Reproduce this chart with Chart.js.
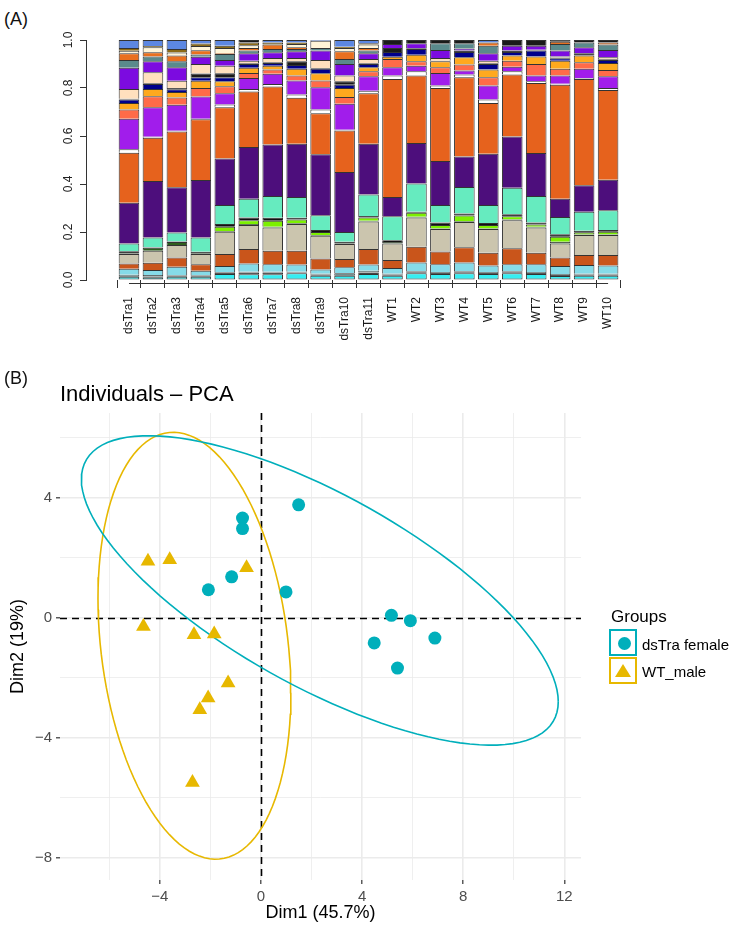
<!DOCTYPE html>
<html>
<head>
<meta charset="utf-8">
<script src="https://cdn.jsdelivr.net/npm/chart.js@4.4.1/dist/chart.umd.min.js"></script>
<style>
  html, body { margin: 0; padding: 0; background: #fff; }
  body { width: 731px; height: 931px; position: relative; overflow: hidden; font-family: "Liberation Sans", Arial, sans-serif; }
  .abs { position: absolute; white-space: nowrap; }
  .tag { font-size: 18px; line-height: 18px; color: #111; }
  #barBox { left: 0; top: 0; width: 731px; height: 370px; }
  #pcaBox { left: 0; top: 380px; width: 731px; height: 551px; }
  #pcaTitle { left: 60px; top: 383px; font-size: 22px; line-height: 22px; color: #000; }
  .legTitle { font-size: 17px; line-height: 17px; color: #000; }
  .legText { font-size: 15px; line-height: 15px; color: #000; }
  .key { width: 28px; height: 27px; box-sizing: border-box; border: 2px solid; background: #fff; }
  .dot { position: absolute; left: 7px; top: 6px; width: 13px; height: 13px; border-radius: 50%; background: #00AFBB; }
  .tri { position: absolute; left: 4px; top: 5px; width: 0; height: 0; border-left: 8px solid transparent; border-right: 8px solid transparent; border-bottom: 13px solid #E7B800; }
</style>
</head>
<body>
<div class="abs tag" style="left:4px; top:10px">(A)</div>
<div class="abs" id="barBox"><canvas id="barChart"></canvas></div>
<div class="abs tag" style="left:4px; top:369px">(B)</div>
<div class="abs" id="pcaTitle">Individuals – PCA</div>
<div class="abs" id="pcaBox"><canvas id="pcaChart"></canvas></div>

<div class="abs legTitle" style="left:611px; top:608px">Groups</div>
<div class="abs key" style="left:609px; top:629px; border-color:#00AFBB"><div class="dot"></div></div>
<div class="abs legText" style="left:642px; top:637px">dsTra female</div>
<div class="abs key" style="left:609px; top:657px; border-color:#E7B800"><div class="tri"></div></div>
<div class="abs legText" style="left:642px; top:664px">WT_male</div>

<script>
// Panel A : composition des échantillons (limites cumulées, de bas en haut)
const sampleNames = ['dsTra1', 'dsTra2', 'dsTra3', 'dsTra4', 'dsTra5', 'dsTra6', 'dsTra7', 'dsTra8', 'dsTra9', 'dsTra10', 'dsTra11',
    'WT1', 'WT2', 'WT3', 'WT4', 'WT5', 'WT6', 'WT7', 'WT8', 'WT9', 'WT10'];

const topCyan       = [.014,.011,.014,.014,.025,.024,.024,.028,.018,.018,.025,.018,.028,.025,.028,.025,.028,.025,.017,.018,.018];
const topBlack1     = [.017,.014,.018,.018,.030,.031,.031,.031,.022,.021,.031,.022,.032,.029,.032,.029,.032,.029,.021,.022,.022];
const topGray       = [.022,.021,.021,.021,.033,.034,.034,.034,.026,.028,.039,.026,.036,.033,.036,.033,.036,.033,.025,.026,.026];
const topLightBlue  = [.047,.042,.055,.039,.058,.069,.066,.065,.044,.053,.065,.050,.073,.066,.073,.060,.066,.066,.058,.062,.060];
const topRust       = [.069,.072,.094,.066,.108,.129,.122,.122,.090,.087,.129,.083,.139,.119,.136,.114,.132,.114,.094,.104,.104];
const topTan        = [.108,.122,.146,.108,.201,.229,.219,.233,.184,.150,.244,.152,.260,.212,.242,.212,.249,.219,.152,.187,.187];
const topDarkGreen  = [.110,.134,.158,.111,.204,.233,.222,.236,.187,.152,.247,.158,.264,.215,.245,.215,.252,.222,.159,.190,.190];
const topLime       = [.110,.134,.158,.111,.222,.249,.247,.252,.200,.152,.260,.158,.280,.229,.269,.229,.266,.231,.180,.197,.201];
const topBlack2     = [.120,.136,.160,.118,.233,.260,.259,.259,.208,.159,.267,.166,.284,.240,.277,.238,.274,.240,.191,.205,.208];
const topAqua       = [.152,.177,.198,.177,.312,.339,.350,.346,.270,.200,.356,.266,.402,.312,.388,.312,.384,.350,.263,.284,.291];
const topIndigo     = [.322,.413,.386,.417,.506,.554,.565,.568,.524,.450,.568,.346,.571,.496,.515,.526,.598,.529,.339,.395,.418];
const topOrange     = [.530,.593,.619,.670,.720,.785,.806,.759,.695,.623,.778,.838,.852,.800,.845,.738,.856,.821,.814,.838,.792];
const topWhite      = [.545,.597,.622,.672,.731,.796,.817,.773,.710,.626,.789,.852,.870,.810,.856,.752,.870,.828,.818,.842,.800];
const topViolet     = [.672,.720,.730,.765,.778,.842,.859,.831,.803,.734,.849,.886,.893,.863,.873,.810,.889,.852,.852,.880,.849];
const topTomato     = [.710,.766,.760,.800,.807,.863,.877,.852,.831,.762,.870,.921,.911,.886,.898,.845,.914,.900,.880,.907,.875];
const topGold       = [.737,.796,.783,.830,.828,.884,.893,.880,.861,.800,.886,.930,.939,.911,.928,.877,.935,.931,.914,.935,.904];
const topNavy       = [.752,.817,.795,.845,.845,.900,.904,.896,.880,.814,.900,.950,.963,.911,.950,.900,.950,.956,.924,.935,.917];
const topBlack3     = [.755,.820,.800,.860,.861,.903,.907,.911,.883,.828,.903,.967,.966,.914,.956,.903,.956,.959,.927,.945,.920];
const topBisque     = [.796,.866,.830,.900,.893,.914,.925,.925,.917,.852,.921,.967,.966,.925,.956,.914,.956,.959,.931,.945,.928];
const topBlueViolet = [.884,.911,.886,.930,.917,.945,.949,.953,.956,.900,.945,.983,.986,.958,.965,.945,.976,.976,.956,.970,.958];
const topCadet      = [.917,.931,.911,.940,.942,.956,.963,.963,.967,.921,.956,.983,.986,.986,.986,.976,.976,.976,.983,.990,.981];
const topOrange2    = [.945,.949,.935,.957,.945,.967,.981,.970,.967,.953,.967,.983,.986,.986,.986,.990,.976,.976,.993,.990,.990];
const topCream      = [.955,.970,.948,.975,.967,.978,.981,.983,.997,.967,.981,.983,.986,.986,.986,.990,.976,.976,.993,.990,.990];
const topOlive      = [.967,.975,.962,.985,.976,.990,.990,.990,.997,.972,.986,.983,.986,.986,.986,.990,.976,.976,.993,.990,.990];
const topCornflower = [1,1,1,1,1,.990,1,1,1,1,1,.983,.986,.986,.986,1,.976,.976,.993,.990,.990];
const topBlackTop   = [1,1,1,1,1,1,1,1,1,1,1,1,1,1,1,1,1,1,1,1,1];

const segmentTops = [topCyan, topBlack1, topGray, topLightBlue, topRust, topTan, topDarkGreen, topLime, topBlack2,
    topAqua, topIndigo, topOrange, topWhite, topViolet, topTomato, topGold, topNavy, topBlack3, topBisque,
    topBlueViolet, topCadet, topOrange2, topCream, topOlive, topCornflower, topBlackTop];
const segmentColors = ['#36EEF2', '#1a1a1a', '#6F8F8F', '#86DBE8', '#C9551B', '#CBC5AE', '#2E5E1E', '#7CF000', '#111111',
    '#66EBBF', '#4D0E7C', '#E6621D', '#FFFFFF', '#A11DEB', '#FF6B49', '#FFA91E', '#00008B', '#1a1a1a', '#FFE0BE',
    '#7C0BE0', '#5A8A8C', '#E9701F', '#FFF5D8', '#8C6B17', '#5C87E2', '#1a1a1a'];
const yTickStep = 0.2;

// Panel B : coordonnées des individus
const femaleX = [1.49, -0.73, -0.73, -1.16, -2.08, 0.99, 5.16, 5.91, 4.48, 6.88, 5.40];
const femaleY = [3.76, 3.32, 2.97, 1.36, 0.93, 0.86, 0.08, -0.10, -0.84, -0.68, -1.68];
const maleX = [-4.47, -3.61, -0.57, -4.65, -2.65, -1.85, -1.30, -2.09, -2.42, -2.71];
const maleY = [1.88, 1.93, 1.66, -0.29, -0.57, -0.54, -2.18, -2.68, -3.07, -5.49];
const xGridValues = [-6, -4, -2, 0, 2, 4, 6, 8, 10, 12];
const xMajorTicks = [-4, 0, 4, 8, 12];
const yGridValues = [-8, -6, -4, -2, 0, 2, 4, 6];
const yMajorTicks = [-8, -4, 0, 4];

const FONT = '"Liberation Sans", Arial, sans-serif';
Chart.defaults.font.family = FONT;

// Axes façon R (ligne d'axe x limitée aux ticks, étiquettes y tournées)
const barAxesExtras = {
    id: 'barAxesExtras',
    afterDraw(chart) {
        const { ctx, chartArea, scales: { x, y } } = chart;
        ctx.save();
        ctx.strokeStyle = '#333';
        ctx.lineWidth = 1;
        const yLine = Math.round(chartArea.bottom + 3) + 0.5;
        ctx.beginPath();
        ctx.moveTo(x.getPixelForValue(1), yLine);
        ctx.lineTo(x.getPixelForValue(sampleNames.length), yLine);
        ctx.stroke();
        ctx.fillStyle = '#222';
        ctx.font = '12px ' + FONT;
        ctx.textAlign = 'center';
        ctx.textBaseline = 'middle';
        y.ticks.forEach(t => {
            ctx.save();
            ctx.translate(chartArea.left - 17, y.getPixelForValue(t.value));
            ctx.rotate(-Math.PI / 2);
            ctx.fillText(t.value.toFixed(1), 0, 0);
            ctx.restore();
        });
        ctx.restore();
    }
};

function initBarChart() {
    const datasets = segmentTops.map((tops, k) => ({
        data: tops.map((t, i) => {
            const h = t - (k ? segmentTops[k - 1][i] : 0);
            return { x: i + 1, y: h > 0.0005 ? h : null };
        }),
        backgroundColor: segmentColors[k],
        borderColor: '#333',
        borderWidth: 1,
        borderSkipped: k === 0 ? false : 'start',
        barPercentage: 0.86,
        categoryPercentage: 1
    }));

    new Chart(document.getElementById('barChart'), {
        type: 'bar',
        data: { datasets },
        options: {
            animation: false,
            responsive: true,
            maintainAspectRatio: false,
            layout: { padding: { top: 40, right: 80, bottom: 0, left: 0 } },
            plugins: { legend: { display: false }, tooltip: { enabled: false } },
            scales: {
                x: {
                    type: 'linear',
                    stacked: true,
                    min: -0.233,
                    max: 22.23,
                    afterBuildTicks: s => { s.ticks = sampleNames.map((n, i) => ({ value: i + 1 })); },
                    afterFit: s => { s.height = 90; },
                    border: { display: false },
                    grid: { drawOnChartArea: false, drawTicks: true, tickLength: 8, color: '#333' },
                    ticks: {
                        autoSkip: false, minRotation: 90, maxRotation: 90, padding: 9,
                        color: '#1a1a1a', font: { size: 12 },
                        callback: v => sampleNames[Math.round(v) - 1]
                    }
                },
                y: {
                    stacked: true,
                    min: 0,
                    max: 1,
                    afterFit: s => { s.width = 86; },
                    border: { display: true, color: '#333', width: 1 },
                    grid: { drawOnChartArea: false, drawTicks: true, tickLength: 6, color: '#333' },
                    ticks: { stepSize: yTickStep, display: false }
                }
            }
        },
        plugins: [barAxesExtras]
    });
}

// Ellipse de confiance (loi normale, niveau 95 %) calculée à partir des points du groupe
function confidenceEllipse(xs, ys, level = 0.95, segments = 120) {
    const n = xs.length;
    const mx = xs.reduce((a, b) => a + b, 0) / n;
    const my = ys.reduce((a, b) => a + b, 0) / n;
    let sxx = 0, syy = 0, sxy = 0;
    for (let i = 0; i < n; i++) {
        sxx += (xs[i] - mx) ** 2;
        syy += (ys[i] - my) ** 2;
        sxy += (xs[i] - mx) * (ys[i] - my);
    }
    sxx /= n - 1; syy /= n - 1; sxy /= n - 1;
    const dfd = n - 1;
    const fq = dfd / 2 * (Math.pow(1 - level, -2 / dfd) - 1);
    const r = Math.sqrt(2 * fq);
    const r11 = Math.sqrt(sxx), r12 = sxy / r11, r22 = Math.sqrt(syy - r12 * r12);
    const pts = [];
    for (let k = 0; k <= segments; k++) {
        const t = 2 * Math.PI * k / segments;
        const c = Math.cos(t), s = Math.sin(t);
        pts.push({ x: mx + r * c * r11, y: my + r * (c * r12 + s * r22) });
    }
    return pts;
}

const zeroLines = {
    id: 'zeroLines',
    beforeDatasetsDraw(chart) {
        const { ctx, chartArea: a, scales: { x, y } } = chart;
        const px = Math.round(x.getPixelForValue(0)) + 0.5;
        const py = Math.round(y.getPixelForValue(0)) + 0.5;
        ctx.save();
        ctx.strokeStyle = '#000';
        ctx.lineWidth = 1.6;
        ctx.setLineDash([7, 5]);
        ctx.beginPath();
        ctx.moveTo(px, a.top); ctx.lineTo(px, a.bottom);
        ctx.moveTo(a.left, py); ctx.lineTo(a.right, py);
        ctx.stroke();
        ctx.restore();
    }
};

const fmtTick = v => (v < 0 ? '\u2212' + Math.abs(v) : String(v));

function initPcaChart() {
    const toPoints = (xs, ys) => xs.map((x, i) => ({ x, y: ys[i] }));
    const gridWidth = (majors) => ctx => majors.includes(ctx.tick.value) ? 1.6 : 0.8;
    const tickCol = (majors) => ctx => majors.includes(ctx.tick.value) ? '#333' : 'rgba(0,0,0,0)';

    new Chart(document.getElementById('pcaChart'), {
        type: 'scatter',
        data: {
            datasets: [
                { data: toPoints(femaleX, femaleY), pointStyle: 'circle', pointRadius: 6.5,
                  backgroundColor: '#00AFBB', borderColor: '#00AFBB', borderWidth: 0 },
                { data: toPoints(maleX, maleY), pointStyle: 'triangle', pointRadius: 8.5,
                  backgroundColor: '#E7B800', borderColor: '#E7B800', borderWidth: 0 },
                { data: confidenceEllipse(femaleX, femaleY), showLine: true, pointRadius: 0,
                  borderColor: '#00AFBB', borderWidth: 1.6, fill: false, tension: 0 },
                { data: confidenceEllipse(maleX, maleY), showLine: true, pointRadius: 0,
                  borderColor: '#E7B800', borderWidth: 1.6, fill: false, tension: 0 }
            ]
        },
        options: {
            animation: false,
            responsive: true,
            maintainAspectRatio: false,
            layout: { padding: { top: 33, right: 150, bottom: 0, left: 0 } },
            plugins: { legend: { display: false }, tooltip: { enabled: false } },
            scales: {
                x: {
                    type: 'linear', min: -7.95, max: 12.66,
                    afterBuildTicks: s => { s.ticks = xGridValues.map(v => ({ value: v })); },
                    afterFit: s => { s.height = 51; },
                    border: { display: false },
                    grid: { color: '#EBEBEB', lineWidth: gridWidth(xMajorTicks), drawTicks: true, tickLength: 4,
                            tickColor: tickCol(xMajorTicks), tickWidth: 1.2 },
                    ticks: { autoSkip: false, maxRotation: 0, padding: 4, color: '#4D4D4D', font: { size: 15 },
                             callback: v => xMajorTicks.includes(v) ? fmtTick(v) : '' },
                    title: { display: true, text: 'Dim1 (45.7%)', color: '#000', font: { size: 18 },
                             padding: { top: 0, bottom: 7 } }
                },
                y: {
                    type: 'linear', min: -8.74, max: 6.82,
                    afterBuildTicks: s => { s.ticks = yGridValues.map(v => ({ value: v })); },
                    afterFit: s => { s.width = 60; },
                    border: { display: false },
                    grid: { color: '#EBEBEB', lineWidth: gridWidth(yMajorTicks), drawTicks: true, tickLength: 4,
                            tickColor: tickCol(yMajorTicks), tickWidth: 1.2 },
                    ticks: { autoSkip: false, padding: 4, color: '#4D4D4D', font: { size: 15 },
                             callback: v => yMajorTicks.includes(v) ? fmtTick(v) : '' },
                    title: { display: true, text: 'Dim2 (19%)', color: '#000', font: { size: 18 },
                             padding: { top: 7, bottom: 0 } }
                }
            }
        },
        plugins: [zeroLines]
    });
}

initBarChart();
initPcaChart();
</script>
</body>
</html>
